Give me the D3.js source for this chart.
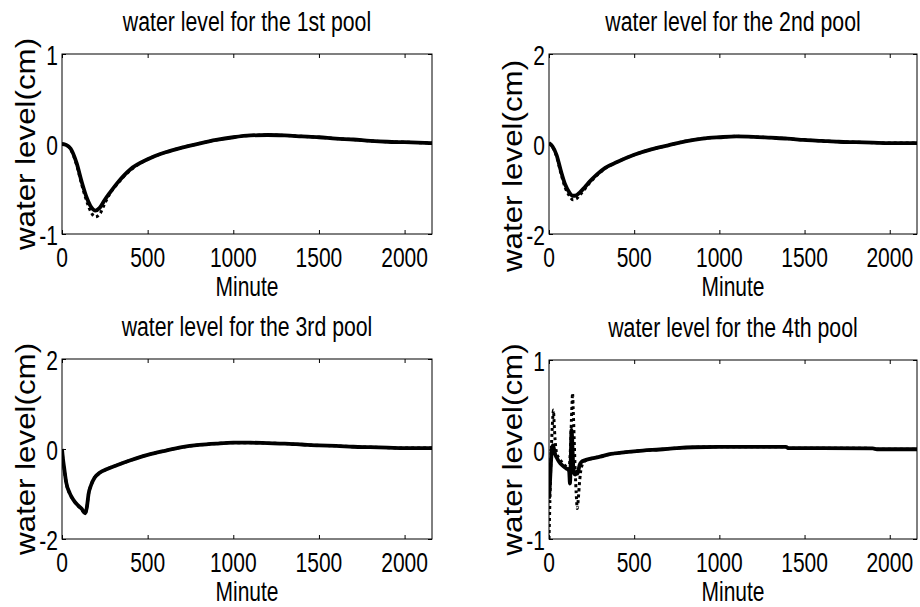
<!DOCTYPE html>
<html>
<head>
<meta charset="utf-8">
<script src="https://cdn.jsdelivr.net/npm/d3@7"></script>
<style>
  body { margin: 0; background: #fff; }
  svg { display: block; }
  text { font-family: "Liberation Sans", Arial, sans-serif; fill: #000; }
</style>
</head>
<body>
<svg id="chart" width="920" height="607"></svg>
<script>
// x ticks shared by all four pools
const minuteTicks = [0, 500, 1000, 1500, 2000];
const minuteMax = 2160;

const pool1Minutes = [0, 25, 50, 85, 115, 145, 170, 195, 220, 250, 280, 320, 400, 500, 600, 700, 800, 900, 1000, 1100, 1200, 1300, 1400, 1500, 1600, 1700, 1800, 1900, 2000, 2160];
const pool1Solid = [0, -0.01, -0.05, -0.21, -0.42, -0.60, -0.70, -0.74, -0.71, -0.62, -0.54, -0.44, -0.28, -0.17, -0.095, -0.04, 0.005, 0.045, 0.075, 0.095, 0.10, 0.095, 0.085, 0.075, 0.06, 0.05, 0.035, 0.025, 0.02, 0.01];
const pool1Dotted = [0, -0.01, -0.06, -0.23, -0.45, -0.64, -0.76, -0.81, -0.78, -0.66, -0.55, -0.45, -0.29, -0.17, -0.095, -0.04, 0.005, 0.045, 0.075, 0.095, 0.10, 0.095, 0.085, 0.075, 0.06, 0.05, 0.035, 0.025, 0.02, 0.01];

const pool2Minutes = [0, 20, 45, 70, 95, 120, 140, 160, 180, 210, 240, 280, 330, 400, 500, 600, 700, 800, 900, 1000, 1100, 1200, 1300, 1400, 1500, 1600, 1700, 1800, 1900, 2000, 2160];
const pool2Solid = [0.02, -0.05, -0.25, -0.6, -0.9, -1.08, -1.15, -1.14, -1.08, -0.96, -0.83, -0.68, -0.53, -0.40, -0.24, -0.12, -0.03, 0.06, 0.12, 0.15, 0.17, 0.16, 0.14, 0.12, 0.09, 0.07, 0.05, 0.04, 0.03, 0.02, 0.02];
const pool2Dotted = [0.02, -0.06, -0.28, -0.65, -0.97, -1.15, -1.24, -1.22, -1.14, -1.0, -0.86, -0.70, -0.54, -0.40, -0.24, -0.12, -0.03, 0.06, 0.12, 0.15, 0.17, 0.16, 0.14, 0.12, 0.09, 0.07, 0.05, 0.04, 0.03, 0.02, 0.02];

const pool3Minutes = [0, 5, 12, 25, 45, 65, 90, 115, 135, 145, 155, 170, 190, 220, 260, 320, 400, 500, 600, 700, 800, 900, 1000, 1100, 1200, 1300, 1400, 1500, 1600, 1700, 1800, 1900, 2000, 2160];
const pool3Solid = [0, -0.2, -0.4, -0.75, -0.98, -1.12, -1.24, -1.33, -1.43, -1.3, -1.0, -0.8, -0.64, -0.53, -0.45, -0.36, -0.25, -0.13, -0.04, 0.04, 0.09, 0.12, 0.14, 0.14, 0.13, 0.12, 0.10, 0.08, 0.07, 0.05, 0.04, 0.03, 0.02, 0.02];
const pool3Dotted = [0, -0.22, -0.42, -0.76, -0.99, -1.13, -1.25, -1.34, -1.44, -1.31, -1.0, -0.8, -0.64, -0.53, -0.45, -0.36, -0.25, -0.13, -0.04, 0.04, 0.09, 0.12, 0.14, 0.14, 0.13, 0.12, 0.10, 0.08, 0.07, 0.05, 0.04, 0.03, 0.02, 0.02];

const pool4Minutes = [0, 5, 10, 16, 22, 26, 30, 36, 45, 60, 80, 100, 118, 123, 128, 132, 136, 138, 142, 148, 154, 160, 166, 172, 180, 190, 210, 250, 300, 350, 450, 550, 650, 750, 850, 1000, 1200, 1390, 1405, 1600, 1900, 1925, 2160];
const pool4Solid = [-0.55, -0.4, -0.2, -0.02, 0.05, 0.03, 0.0, -0.05, -0.09, -0.14, -0.18, -0.21, -0.24, -0.38, -0.1, 0.22, 0.12, 0.02, -0.18, -0.27, -0.28, -0.25, -0.27, -0.24, -0.17, -0.14, -0.12, -0.1, -0.08, -0.055, -0.03, -0.012, 0.0, 0.015, 0.025, 0.03, 0.03, 0.03, 0.015, 0.015, 0.012, 0.003, 0.003];
const pool4Dotted = [-1.0, -0.6, -0.2, 0.12, 0.35, 0.44, 0.3, 0.1, -0.04, -0.1, -0.15, -0.19, -0.22, -0.1, 0.1, 0.35, 0.55, 0.63, 0.45, 0.1, -0.25, -0.5, -0.66, -0.55, -0.35, -0.2, -0.13, -0.1, -0.08, -0.055, -0.03, -0.012, 0.0, 0.015, 0.025, 0.03, 0.03, 0.03, 0.015, 0.015, 0.012, 0.003, 0.003];

const poolTitles = ['water level for the 1st pool', 'water level for the 2nd pool', 'water level for the 3rd pool', 'water level for the 4th pool'];
const poolYDomains = [[-1, 1], [-2, 2], [-2, 2], [-1, 1]];
const poolYTicks = [[-1, 0, 1], [-2, 0, 2], [-2, 0, 2], [-1, 0, 1]];

const svg = d3.select('#chart');

const BOXES = [
  { left: 62, top: 54, right: 432, bottom: 234, labelShift: 0 },
  { left: 549, top: 54, right: 917, bottom: 234, labelShift: 22 },
  { left: 62, top: 359, right: 432, bottom: 539, labelShift: 0 },
  { left: 549, top: 360, right: 917, bottom: 539, labelShift: 0 }
];

const FONT = 28;
const SQUEEZE = 0.75; // the original text is narrow

const pools = [
  { minutes: pool1Minutes, solid: pool1Solid, dotted: pool1Dotted },
  { minutes: pool2Minutes, solid: pool2Solid, dotted: pool2Dotted },
  { minutes: pool3Minutes, solid: pool3Solid, dotted: pool3Dotted },
  { minutes: pool4Minutes, solid: pool4Solid, dotted: pool4Dotted }
];

function narrowText(g, x, y, str, anchor, sx) {
  g.append('text')
    .attr('transform', `translate(${x},${y}) scale(${sx},1)`)
    .attr('text-anchor', anchor)
    .attr('font-size', FONT)
    .text(str);
}

pools.forEach((pool, i) => {
  const b = BOXES[i];
  const g = svg.append('g');

  const x = d3.scaleLinear().domain([0, minuteMax]).range([b.left, b.right]);
  const y = d3.scaleLinear().domain(poolYDomains[i]).range([b.bottom, b.top]);

  g.append('clipPath').attr('id', 'clip' + i)
    .append('rect')
    .attr('x', b.left).attr('y', b.top)
    .attr('width', b.right - b.left).attr('height', b.bottom - b.top);

  // inward ticks on all four sides
  g.append('g').attr('transform', `translate(0,${b.bottom})`)
    .call(d3.axisBottom(x).tickValues(minuteTicks).tickSizeInner(-4).tickSizeOuter(0).tickFormat(''));
  g.append('g').attr('transform', `translate(0,${b.top})`)
    .call(d3.axisTop(x).tickValues(minuteTicks).tickSizeInner(-4).tickSizeOuter(0).tickFormat(''));
  g.append('g').attr('transform', `translate(${b.left},0)`)
    .call(d3.axisLeft(y).tickValues(poolYTicks[i]).tickSizeInner(-4).tickSizeOuter(0).tickFormat(''));
  g.append('g').attr('transform', `translate(${b.right},0)`)
    .call(d3.axisRight(y).tickValues(poolYTicks[i]).tickSizeInner(-4).tickSizeOuter(0).tickFormat(''));
  g.selectAll('.domain').remove();
  g.selectAll('.tick line').attr('stroke', '#000');

  const rows = pool.minutes.map((m, k) => ({ m, solid: pool.solid[k], dotted: pool.dotted[k] }));

  const lineDotted = d3.line().x(d => x(d.m)).y(d => y(d.dotted)).curve(d3.curveMonotoneX);
  const lineSolid = d3.line().x(d => x(d.m)).y(d => y(d.solid)).curve(d3.curveMonotoneX);

  const plot = g.append('g').attr('clip-path', `url(#clip${i})`);
  plot.append('path').datum(rows)
    .attr('d', lineDotted)
    .attr('fill', 'none').attr('stroke', '#000')
    .attr('stroke-width', 3).attr('stroke-dasharray', '3,3');
  plot.append('path').datum(rows)
    .attr('d', lineSolid)
    .attr('fill', 'none').attr('stroke', '#000')
    .attr('stroke-width', 3.8).attr('stroke-linejoin', 'round');

  g.append('rect')
    .attr('x', b.left).attr('y', b.top)
    .attr('width', b.right - b.left).attr('height', b.bottom - b.top)
    .attr('fill', 'none').attr('stroke', '#000').attr('stroke-width', 1);

  // tick labels
  minuteTicks.forEach(t => narrowText(g, x(t), b.bottom + 33, String(t), 'middle', SQUEEZE));
  poolYTicks[i].forEach(t => narrowText(g, b.left - 4, y(t) + 11, String(t), 'end', SQUEEZE));

  narrowText(g, (b.left + b.right) / 2, b.top - 23, poolTitles[i], 'middle', 0.76);
  narrowText(g, (b.left + b.right) / 2, b.bottom + 62, 'Minute', 'middle', SQUEEZE);

  const cy = (b.top + b.bottom) / 2 + b.labelShift;
  g.append('text')
    .attr('transform', `translate(${b.left - 27},${cy}) rotate(-90) scale(1.16,1)`)
    .attr('text-anchor', 'middle')
    .attr('font-size', 27)
    .text('water level(cm)');
});
</script>
</body>
</html>
